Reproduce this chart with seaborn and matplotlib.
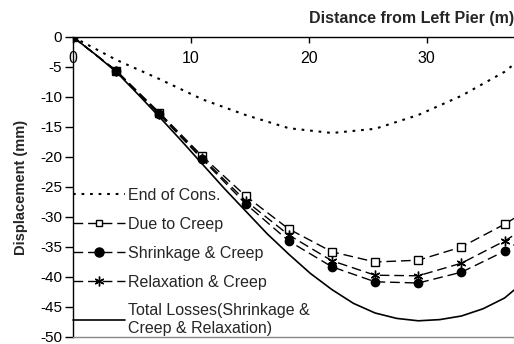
import matplotlib
matplotlib.use("Agg")
import matplotlib.pyplot as plt
import seaborn as sns
import pandas as pd

# ---- data ----
distance = [0, 3.66, 7.32, 10.98, 14.64, 18.30, 21.96, 25.62, 29.28, 32.94, 36.60, 40.26]
end_of_cons = [0, -3.8, -7.0, -10.4, -13.0, -15.2, -16.0, -15.3, -13.0, -9.8, -5.8, 0.0]
due_to_creep = [0, -5.6, -12.6, -19.9, -26.5, -32.0, -35.8, -37.5, -37.2, -35.0, -31.2, -26.8]
shrinkage_creep = [0, -5.7, -12.9, -20.4, -27.8, -34.0, -38.3, -40.8, -41.0, -39.2, -35.7, -31.0]
relaxation_creep = [0, -5.6, -12.8, -20.2, -27.3, -33.0, -37.3, -39.7, -39.8, -37.7, -34.0, -29.5]

# solid curve read at half steps (no markers on it)
total_distance = [0, 1.83, 3.66, 5.49, 7.32, 9.15, 10.98, 12.81, 14.64, 16.47, 18.30,
                  20.13, 21.96, 23.79, 25.62, 27.45, 29.28, 31.11, 32.94, 34.77, 36.60, 38.43]
total_losses = [0, -2.8, -5.8, -9.5, -13.3, -17.2, -21.2, -25.2, -29.0, -32.8, -36.2,
                -39.4, -42.1, -44.4, -46.0, -46.9, -47.3, -47.1, -46.5, -45.3, -43.5, -40.5]

labels = ["End of Cons.", "Due to Creep", "Shrinkage & Creep", "Relaxation & Creep",
          "Total Losses(Shrinkage &\nCreep & Relaxation)"]
x_ticks = [0, 10, 20, 30]
y_ticks = [0, -5, -10, -15, -20, -25, -30, -35, -40, -45, -50]

df = pd.DataFrame({
    "x": distance,
    "end": end_of_cons,
    "creep": due_to_creep,
    "shr": shrinkage_creep,
    "rel": relaxation_creep,
})
df_tot = pd.DataFrame({"x": total_distance, "tot": total_losses})

sns.set_theme(style="white")
plt.rcParams["font.family"] = ["Liberation Sans", "DejaVu Sans"]
plt.rcParams["axes.unicode_minus"] = False

fig = plt.figure(figsize=(5.14, 3.44), dpi=100)
ax = fig.add_axes([73 / 514, 7 / 344, 441 / 514, 300 / 344])

sns.lineplot(data=df, x="x", y="end", ax=ax, color="black", lw=1.5,
             linestyle=(0, (1.3, 2.8)), label=labels[0])
sns.lineplot(data=df, x="x", y="creep", ax=ax, color="black", lw=1.0,
             linestyle=(0, (7, 3.5)), marker="s", markersize=5.5,
             markerfacecolor="white", markeredgecolor="black", markeredgewidth=1.0,
             label=labels[1])
sns.lineplot(data=df, x="x", y="shr", ax=ax, color="black", lw=1.0,
             linestyle=(0, (7, 3.5)), marker="o", markersize=6,
             markerfacecolor="black", markeredgecolor="black", markeredgewidth=1.0,
             label=labels[2])
sns.lineplot(data=df, x="x", y="rel", ax=ax, color="black", lw=1.0,
             linestyle=(0, (7, 3.5)), marker=(6, 2, 0), markersize=7,
             markerfacecolor="black", markeredgecolor="black", markeredgewidth=1.0,
             label=labels[3])
sns.lineplot(data=df_tot, x="x", y="tot", ax=ax, color="black", lw=1.2,
             linestyle="-", label=labels[4])

ax.set_xlim(0, 37.4)
ax.set_ylim(-50, 0)
ax.set_xticks(x_ticks)
ax.set_yticks(y_ticks)

# x axis drawn along the top edge, labels below it
ax.spines["bottom"].set_position(("axes", 1.0))
ax.spines["bottom"].set_color("black")
ax.spines["bottom"].set_linewidth(1.0)
ax.spines["top"].set_position(("axes", 0.0))
ax.spines["top"].set_color("#888888")
ax.spines["top"].set_linewidth(1.0)
ax.spines["right"].set_visible(False)
ax.spines["left"].set_color("black")
ax.spines["left"].set_linewidth(1.0)

ax.tick_params(axis="x", bottom=True, top=False, direction="out", length=4,
               width=1, pad=6, labelsize=11.5, colors="black")
ax.tick_params(axis="y", left=True, direction="out", length=6, width=1,
               pad=2, labelsize=11, colors="black")

ax.set_xlabel("Distance from Left Pier (m)", fontsize=11.5, fontweight="bold", loc="right")
ax.xaxis.set_label_coords(1.0, 1.087)
ax.xaxis.label.set_va("top")
ax.set_ylabel("Displacement (mm)", fontsize=10.5, fontweight="bold")
ax.yaxis.set_label_coords(-0.102, 0.5)

leg = ax.legend(loc="upper left", bbox_to_anchor=(0.0, 0.497), frameon=False,
                fontsize=11.5, handlelength=3.25, handletextpad=0.2,
                labelspacing=0.87, borderpad=0, borderaxespad=0)
leg_sizes = [0, 5, 6.5, 7, 0]
for line, s in zip(leg.get_lines(), leg_sizes):
    if s:
        line.set_markersize(s)

fig.savefig("out.png", dpi=100, facecolor="white")
